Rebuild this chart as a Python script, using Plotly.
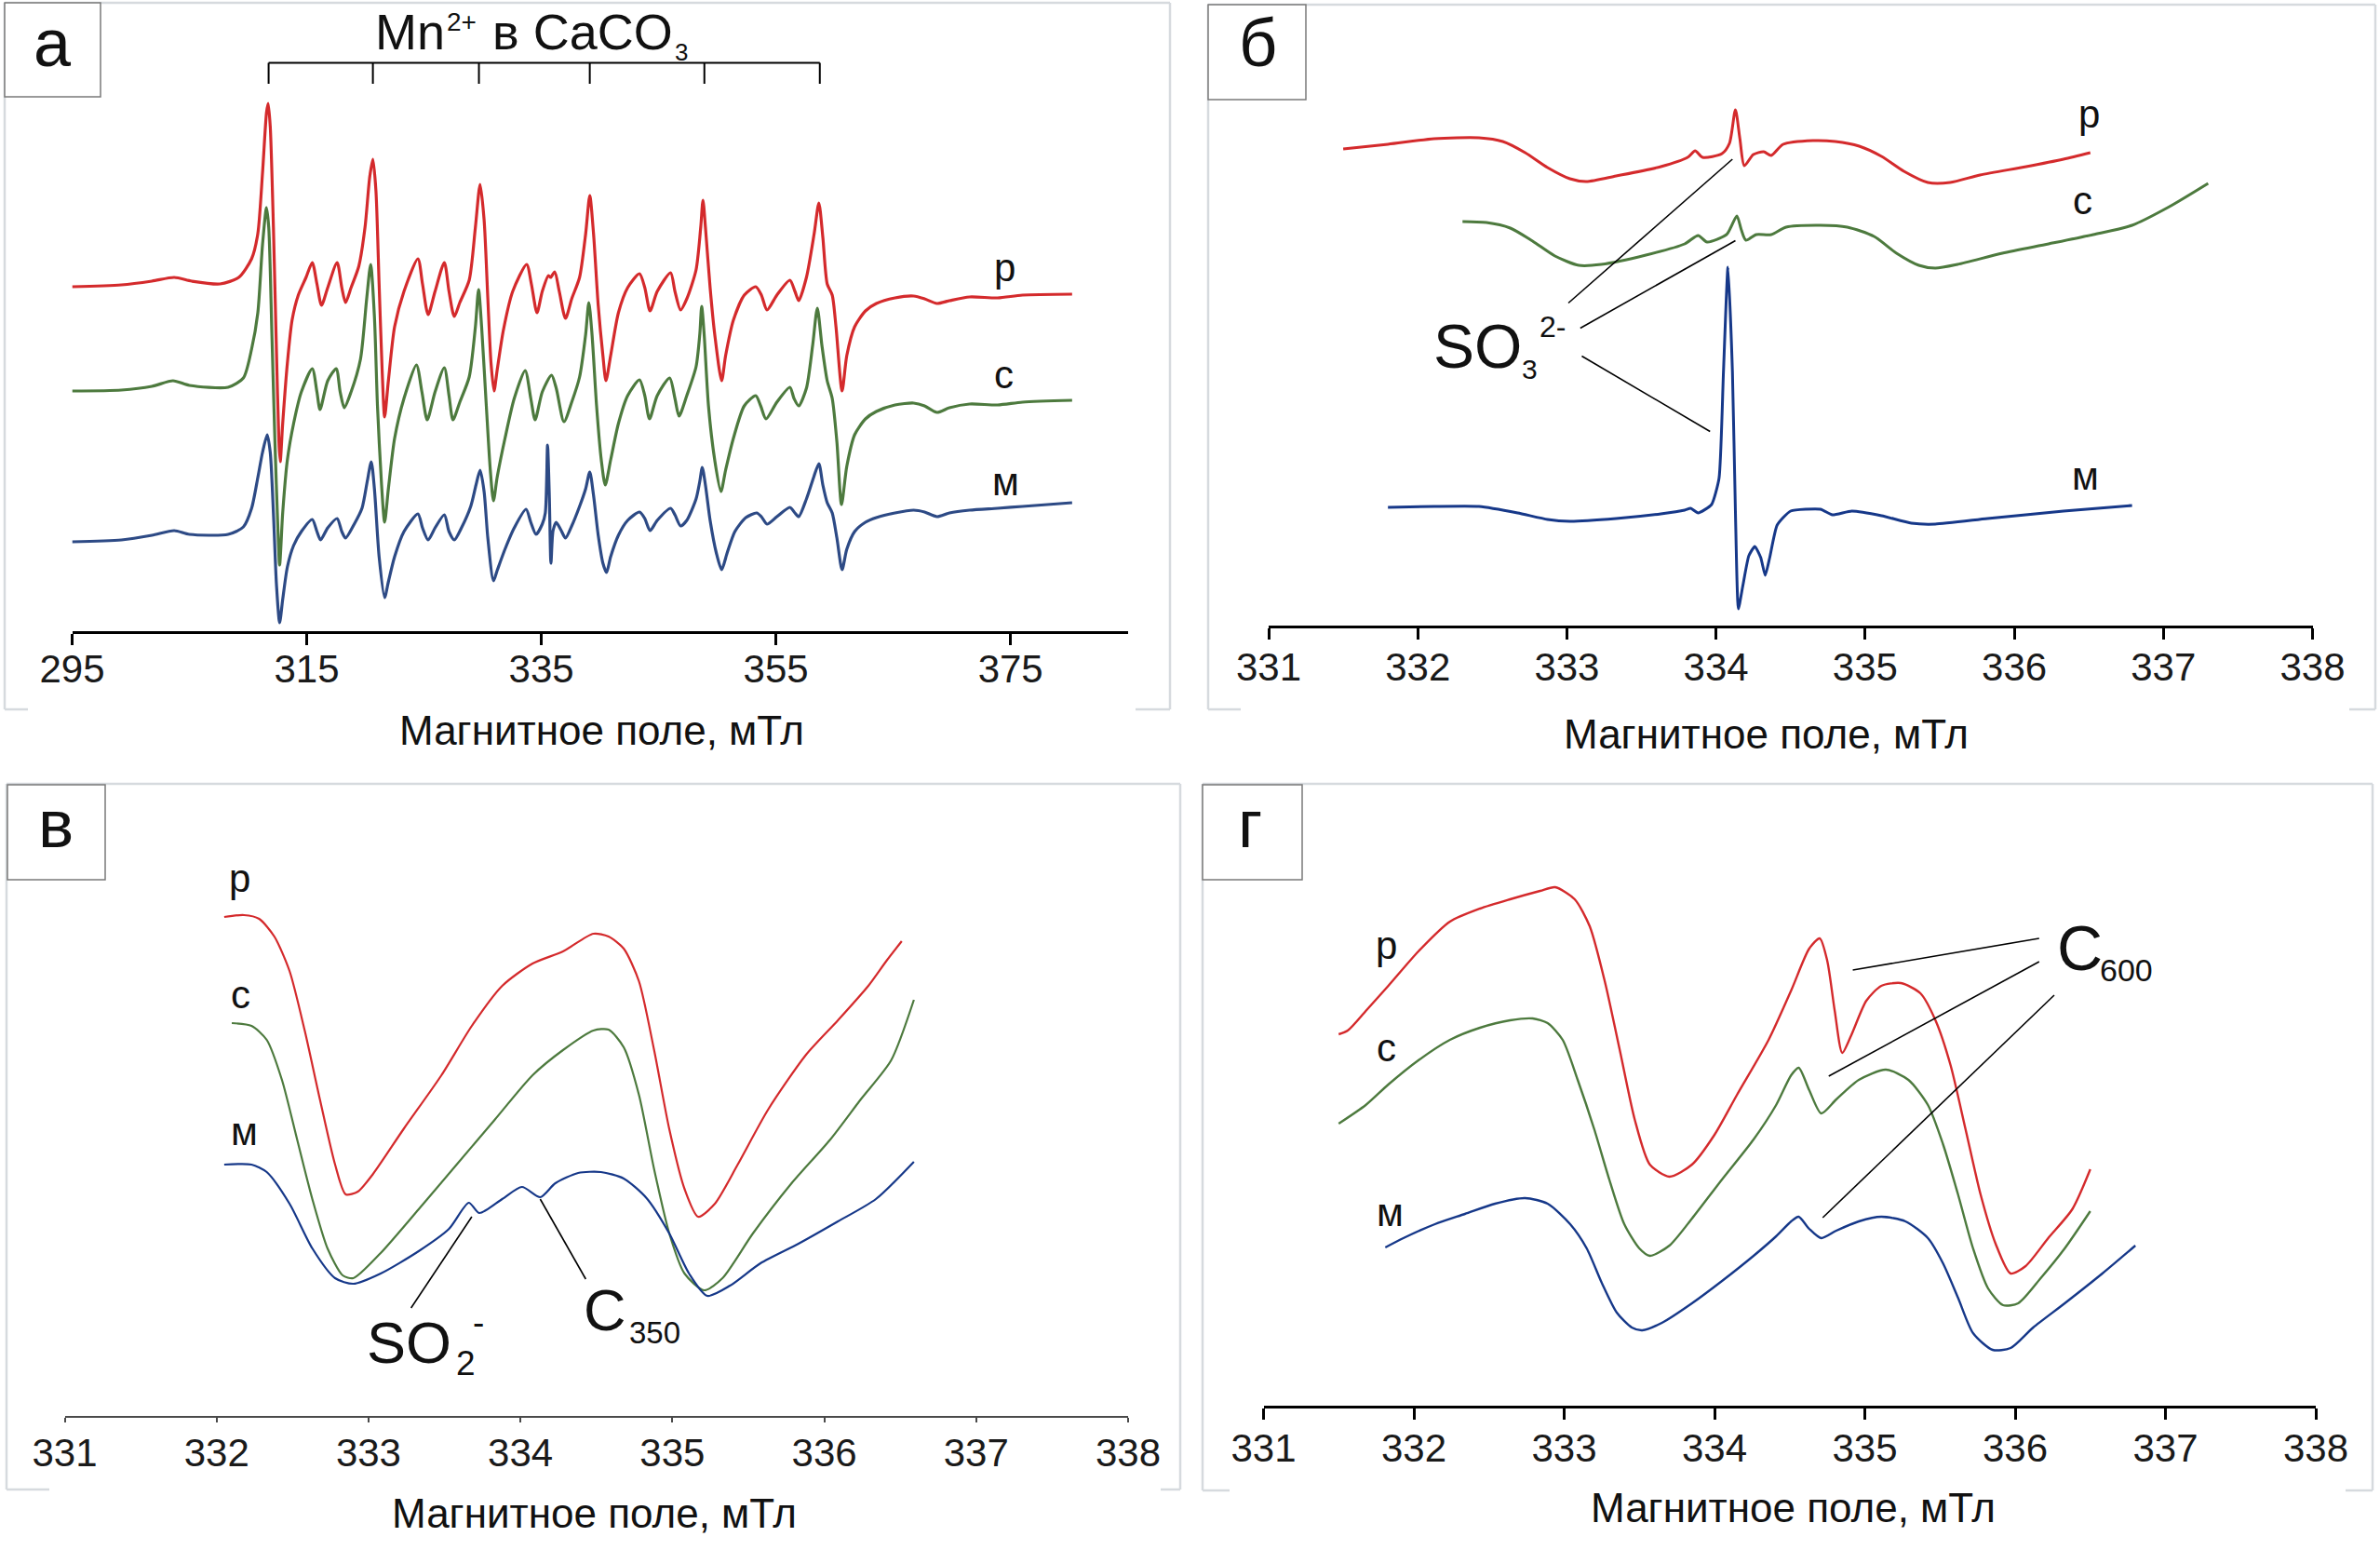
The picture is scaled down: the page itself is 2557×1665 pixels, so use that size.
import plotly.graph_objects as go

W, H = 2557, 1665
FONT = "Liberation Sans, Arial, Helvetica, sans-serif"

# ---------------- panel а : Mn2+ in CaCO3 (field, mT / intensity, arb. units) ----------------
a_ticks = [295, 315, 335, 355, 375]
a_mn_lines = [311.75, 320.64, 329.68, 339.13, 348.9, 358.74]

a_r_x = [295.0, 299.2, 301.8, 303.7, 305.2, 307.6, 309.2,
         310.30, 310.83, 311.23, 311.57, 311.71, 311.89, 312.16, 312.42, 312.63, 312.74,
         312.95, 313.35, 313.75, 314.28, 314.94, 315.47, 315.87, 316.26, 316.79, 317.59,
         317.99, 318.31, 318.78, 319.44, 319.97, 320.37, 320.64, 320.90, 321.17, 321.43,
         321.64, 321.96, 322.49, 323.29, 324.48, 324.87, 325.35, 325.94, 326.73, 327.13,
         327.58, 328.05, 328.85, 329.38, 329.78, 330.12, 330.44, 330.71, 330.97, 331.23,
         331.76, 332.56, 333.75, 334.15, 334.63, 335.08, 335.61, 335.79, 336.14, 336.53,
         337.06, 337.59, 338.26, 338.78, 339.13, 339.45, 339.85, 340.25, 340.51, 340.91,
         341.57, 342.36, 343.37, 343.82, 344.27, 344.88, 346.02, 346.39, 346.87, 347.40,
         348.19, 348.59, 348.78, 348.99, 349.39, 349.78, 350.37, 350.71, 351.37, 352.30,
         353.28, 353.76, 354.24, 355.08, 356.19, 356.62, 356.94, 357.60, 358.26, 358.66,
         359.00, 359.37, 359.80, 360.12, 360.64, 361.04, 361.71, 362.63, 363.56, 365.15,
         366.74, 367.67, 368.73, 369.79, 371.51, 373.90, 376.02, 380.25]
a_r_y = [370, 372, 376, 380, 376, 373, 380,
         400, 427, 492, 557, 567, 542, 434, 300, 203, 182,
         223, 288, 334, 361, 380, 396, 373, 350, 369, 396,
         369, 353, 369, 392, 434, 488, 507, 473, 373, 280,
         230, 269, 327, 365, 400, 373, 340, 365, 396, 365,
         338, 353, 377, 434, 480, 442, 357, 288, 258, 280,
         323, 365, 394, 373, 342, 365, 382, 380, 386, 365,
         336, 357, 380, 427, 468, 427, 350, 296, 269, 296,
         342, 369, 384, 369, 344, 365, 385, 365, 345, 357,
         388, 434, 463, 434, 369, 319, 269, 296, 334, 361,
         370, 361, 345, 361, 377, 365, 355, 380, 427, 460,
         423, 373, 361, 327, 258, 296, 327, 344, 352, 358,
         360, 357, 352, 355, 359, 358, 361, 362]

a_g_x = [295.0, 299.2, 301.8, 303.6, 305.0, 308.3, 309.6,
         310.30, 310.83, 311.23, 311.57, 311.76, 312.03, 312.29, 312.55, 312.69, 312.95,
         313.35, 313.88, 314.54, 315.47, 315.87, 316.13, 316.79, 317.51, 317.85, 318.20,
         318.78, 319.58, 320.11, 320.45, 320.77, 321.03, 321.38, 321.64, 321.96, 322.49,
         323.29, 324.35, 324.82, 325.27, 325.94, 326.73, 327.13, 327.47, 328.05, 328.85,
         329.38, 329.65, 329.91, 330.31, 330.65, 330.92, 331.23, 331.90, 332.69, 333.62,
         334.10, 334.47, 335.08, 335.87, 336.27, 336.93, 337.59, 338.26, 338.78,
         339.05, 339.32, 339.71, 340.11, 340.45, 340.91, 341.57, 342.36, 343.37, 343.82,
         344.22, 344.88, 345.94, 346.39, 346.74, 347.40, 348.19, 348.51, 348.67, 348.88,
         349.25, 349.78, 350.31, 350.71, 351.37, 352.30, 353.28, 353.70, 354.15, 355.08,
         356.19, 356.54, 356.94, 357.60, 358.13, 358.53, 358.92, 359.37, 359.80, 360.20,
         360.59, 361.04, 361.71, 362.63, 363.56, 365.15, 366.74, 367.67, 368.73, 369.79,
         371.51, 373.90, 376.02, 380.25]
a_g_y = [258, 259, 263, 269, 264, 262, 272,
         303, 342, 415, 455, 434, 319, 203, 107, 71, 127,
         184, 223, 257, 282, 257, 238, 269, 282, 257, 240,
         257, 292, 357, 394, 338, 242, 157, 117, 153, 207,
         250, 286, 257, 227, 257, 283, 253, 227, 246, 273,
         327, 367, 327, 242, 173, 140, 165, 207, 250, 280,
         250, 227, 257, 275, 261, 225, 246, 273, 319,
         353, 319, 242, 184, 157, 184, 223, 253, 270, 253,
         228, 253, 272, 250, 231, 253, 284, 319, 349, 319,
         242, 184, 150, 173, 207, 242, 253, 242, 228, 246,
         262, 250, 242, 261, 307, 347, 307, 269, 250, 203,
         136, 177, 211, 228, 236, 243, 245, 242, 235, 240,
         244, 243, 246, 248]

a_b_x = [295.0, 299.2, 301.8, 303.7, 305.0, 308.3, 309.6,
         310.30, 310.83, 311.23, 311.63, 311.89, 312.16, 312.42, 312.69, 312.95, 313.35,
         313.88, 314.54, 315.47, 315.87, 316.18, 316.79, 317.59, 317.99, 318.31, 319.05,
         319.71, 320.16, 320.50, 320.77, 321.17, 321.64, 321.96, 322.49, 323.29, 324.48,
         324.87, 325.35, 325.94, 326.73, 327.13, 327.58, 328.19, 328.98, 329.43, 329.78,
         330.12, 330.44, 330.92, 331.23, 331.90, 332.69, 333.70, 334.10, 334.55, 335.08,
         335.34, 335.53, 335.68, 335.82, 336.00, 336.27, 336.66, 337.06, 337.59, 338.26,
         338.78, 339.13, 339.45, 339.85, 340.25, 340.56, 340.91, 341.57, 342.36, 343.37,
         343.82, 344.27, 344.88, 346.02, 346.39, 346.87, 347.40, 348.19, 348.51, 348.72,
         348.99, 349.39, 349.92, 350.37, 350.84, 351.50, 352.43, 353.36, 353.76, 354.24,
         355.08, 356.19, 356.62, 356.94, 357.60, 358.21, 358.66, 359.00, 359.37, 359.80,
         360.20, 360.64, 361.04, 361.71, 362.63, 363.56, 365.15, 366.74, 367.67,
         368.73, 369.79, 371.51, 373.90, 376.02, 380.25]
a_b_y = [96, 98, 103, 108, 104, 104, 112,
         132, 165, 192, 211, 192, 127, 50, 9, 34, 69,
         92, 107, 120, 107, 98, 111, 121, 107, 100, 115,
         132, 161, 182, 153, 80, 36, 53, 80, 107, 126,
         111, 98, 111, 125, 107, 98, 111, 134, 157, 173,
         150, 100, 54, 65, 88, 111, 131, 117, 104, 115,
         127, 200, 146, 73, 108, 117, 109, 100, 113, 134,
         153, 171, 146, 103, 73, 63, 80, 103, 119, 128,
         121, 108, 119, 132, 125, 113, 119, 142, 161, 176,
         157, 119, 84, 66, 84, 107, 122, 127, 123, 115,
         123, 133, 127, 123, 142, 165, 180, 157, 138, 127,
         100, 66, 88, 107, 117, 122, 127, 130, 128,
         123, 127, 130, 132, 134, 138]

# ---------------- panel б ----------------
b_ticks = [331, 332, 333, 334, 335, 336, 337, 338]
b_r_x = [331.50, 331.80, 332.11, 332.41, 332.57, 332.72, 332.87, 333.02, 333.13, 333.33,
         333.63, 333.81, 333.86, 333.91, 334.04, 334.09, 334.13, 334.16, 334.19, 334.25,
         334.32, 334.37, 334.45, 334.65, 334.80, 334.96, 335.11, 335.26, 335.42, 335.57,
         335.77, 336.08, 336.33, 336.51]
b_r_y = [512, 517, 523, 524, 520, 508, 492, 480, 477, 483,
         493, 503, 510, 503, 507, 518, 554, 523, 494, 506,
         509, 505, 517, 521, 520, 515, 504, 488, 476, 476,
         484, 493, 501, 508]
b_g_x = [332.30, 332.46, 332.62, 332.77, 332.92, 333.08, 333.23, 333.53, 333.79, 333.88,
         333.94, 334.07, 334.10, 334.14, 334.17, 334.20, 334.27, 334.37, 334.47, 334.70,
         334.88, 335.06, 335.21, 335.36, 335.47, 335.62, 335.92, 336.23, 336.53, 336.79,
         337.04, 337.30]
b_g_y = [434, 433, 427, 413, 397, 387, 388, 398, 410, 419,
         412, 420, 428, 440, 425, 414, 420, 420, 428, 430,
         428, 418, 400, 387, 384, 388, 400, 410, 420, 430,
         450, 475]
b_b_x = [331.80, 332.11, 332.41, 332.67, 332.87, 333.02, 333.33, 333.63, 333.79, 333.83,
         333.88, 333.97, 334.02, 334.05, 334.08, 334.11, 334.13, 334.15, 334.18, 334.22,
         334.26, 334.30, 334.33, 334.36, 334.41, 334.50, 334.70, 334.78, 334.91, 335.11,
         335.31, 335.47, 335.82, 336.33, 336.79]
b_b_y = [127, 128, 128, 121, 114, 112, 115, 120, 124, 126,
         121, 130, 158, 273, 385, 273, 123, 18, 43, 75,
         85, 73, 54, 73, 108, 123, 125, 119, 123, 118,
         110, 109, 115, 123, 129]

# ---------------- panel в ----------------
c_ticks = [331, 332, 333, 334, 335, 336, 337, 338]
c_r_x = [332.05, 332.18, 332.28, 332.38, 332.48, 332.58, 332.68, 332.78, 332.85, 332.93,
         333.03, 333.23, 333.48, 333.68, 333.88, 334.08, 334.28, 334.48, 334.58, 334.68,
         334.78, 334.88, 334.98, 335.08, 335.17, 335.28, 335.43, 335.63, 335.88, 336.09,
         336.29, 336.41, 336.51]
c_r_y = [536, 538, 534, 515, 478, 414, 340, 270, 238, 241,
         260, 308, 366, 419, 462, 486, 499, 518, 515, 502,
         467, 393, 308, 244, 214, 228, 270, 329, 388, 425,
         462, 489, 510]
c_g_x = [332.10, 332.23, 332.33, 332.43, 332.53, 332.63, 332.73, 332.83, 332.90, 333.08,
         333.33, 333.58, 333.83, 334.08, 334.28, 334.48, 334.58, 334.68, 334.78, 334.88,
         334.98, 335.08, 335.21, 335.33, 335.53, 335.78, 336.04, 336.24, 336.44, 336.59]
c_g_y = [422, 419, 404, 361, 297, 233, 180, 151, 148, 175,
         222, 270, 318, 366, 393, 414, 415, 396, 345, 265,
         196, 153, 135, 148, 196, 249, 297, 340, 382, 447]
c_b_x = [332.05, 332.23, 332.33, 332.48, 332.63, 332.78, 332.90, 333.08, 333.33, 333.53,
         333.66, 333.73, 333.88, 334.01, 334.13, 334.23, 334.38, 334.53, 334.68, 334.83,
         334.98, 335.11, 335.23, 335.38, 335.58, 335.83, 336.09, 336.34, 336.59]
c_b_y = [270, 270, 262, 228, 180, 148, 142, 153, 177, 201,
         229, 218, 233, 246, 235, 250, 261, 262, 255, 234,
         196, 153, 129, 140, 164, 185, 209, 233, 273]

# ---------------- panel г ----------------
d_ticks = [331, 332, 333, 334, 335, 336, 337, 338]
d_r_x = [331.50, 331.56, 331.68, 331.83, 332.03, 332.24, 332.44, 332.64, 332.84, 332.94,
         333.07, 333.17, 333.27, 333.37, 333.47, 333.57, 333.70, 333.85, 334.00, 334.15,
         334.36, 334.51, 334.63, 334.70, 334.75, 334.80, 334.85, 334.91, 335.01, 335.11,
         335.24, 335.37, 335.47, 335.57, 335.67, 335.77, 335.87, 335.97, 336.07, 336.22,
         336.38, 336.50]
d_r_y = [399, 403, 424, 451, 488, 520, 534, 544, 553, 557,
         544, 515, 456, 382, 307, 259, 246, 259, 291, 334,
         393, 446, 491, 502, 478, 424, 379, 398, 435, 451,
         454, 443, 414, 366, 297, 227, 174, 142, 150, 180,
         211, 254]
d_g_x = [331.50, 331.68, 331.83, 332.03, 332.24, 332.44, 332.64, 332.79, 332.89, 332.99,
         333.09, 333.20, 333.30, 333.40, 333.50, 333.57, 333.70, 333.85, 334.05, 334.26,
         334.41, 334.51, 334.56, 334.63, 334.71, 334.81, 334.96, 335.14, 335.29, 335.42,
         335.52, 335.62, 335.72, 335.82, 335.92, 336.02, 336.17, 336.33, 336.50]
d_g_y = [303, 323, 345, 371, 393, 406, 414, 416, 411, 393,
         350, 297, 243, 195, 169, 161, 172, 201, 243, 286,
         323, 355, 363, 339, 314, 329, 350, 361, 350, 323,
         281, 227, 169, 126, 108, 110, 137, 169, 209]
d_b_x = [331.81, 331.93, 332.14, 332.34, 332.54, 332.74, 332.89, 333.04, 333.15, 333.25,
         333.35, 333.45, 333.52, 333.65, 333.85, 334.05, 334.26, 334.41, 334.51, 334.56,
         334.63, 334.71, 334.81, 334.96, 335.11, 335.27, 335.42, 335.52, 335.62, 335.72,
         335.85, 335.97, 336.12, 336.33, 336.58, 336.80]
d_b_y = [170, 180, 195, 206, 217, 223, 217, 195, 169, 132,
         100, 84, 81, 89, 110, 134, 161, 182, 198, 203,
         190, 180, 188, 198, 203, 198, 180, 153, 116, 78,
         60, 62, 84, 110, 142, 172]

# ---------------- styling ----------------
RED = "#d42a2c"
GREEN = "#4d7a3e"
BLUE_A = "#2d4a85"
BLUE = "#163889"
FRAME = "#d6dade"


def px(x):
    return x / W


def py(y):
    return 1 - y / H


fig = go.Figure()


def curve(x, y, color, ax, width, smooth=0.7):
    fig.add_trace(go.Scatter(
        x=x, y=y, mode="lines", hoverinfo="skip",
        line=dict(color=color, width=width, shape="spline", smoothing=smooth),
        xaxis="x" + ax, yaxis="y" + ax))


curve(a_r_x, a_r_y, RED, "", 3.2)
curve(a_g_x, a_g_y, GREEN, "", 3.2)
curve(a_b_x, a_b_y, BLUE_A, "", 3.2)
curve(b_r_x, b_r_y, RED, "2", 3)
curve(b_g_x, b_g_y, GREEN, "2", 3)
curve(b_b_x, b_b_y, BLUE, "2", 3, 0.5)
curve(c_r_x, c_r_y, RED, "3", 2.2)
curve(c_g_x, c_g_y, GREEN, "3", 2.2)
curve(c_b_x, c_b_y, BLUE, "3", 2.2)
curve(d_r_x, d_r_y, RED, "4", 2.4)
curve(d_g_x, d_g_y, GREEN, "4", 2.4)
curve(d_b_x, d_b_y, BLUE, "4", 2.4)

xbase = dict(showline=True, linecolor="black", linewidth=3, ticks="outside",
             ticklen=12, tickwidth=3, tickcolor="black", showgrid=False,
             zeroline=False, fixedrange=True, automargin=False,
             tickfont=dict(family=FONT, size=42, color="#1a1a1a"))
ybase = dict(visible=False, showgrid=False, zeroline=False, fixedrange=True,
             automargin=False)
xthin = dict(xbase, linewidth=2, linecolor="#4a4a4a", ticklen=5, tickwidth=2,
             tickcolor="#4a4a4a")

fig.update_layout(
    template="none",
    width=W, height=H, margin=dict(l=0, r=0, t=0, b=0, pad=0, autoexpand=False),
    paper_bgcolor="white", plot_bgcolor="rgba(0,0,0,0)", showlegend=False,
    xaxis=dict(xbase, domain=[px(77.5), px(1211.7)], range=[295, 385],
               tickvals=a_ticks, anchor="y"),
    yaxis=dict(ybase, domain=[py(678), py(5)], range=[0, 673], anchor="x"),
    xaxis2=dict(xbase, domain=[px(1363), px(2484.5)], range=[331, 338],
                tickvals=b_ticks, anchor="y2"),
    yaxis2=dict(ybase, domain=[py(672), py(5)], range=[0, 667], anchor="x2"),
    xaxis3=dict(xthin, domain=[px(69.5), px(1212)], range=[331, 338],
                tickvals=c_ticks, anchor="y3"),
    yaxis3=dict(ybase, domain=[py(1521), py(845)], range=[0, 676], anchor="x3"),
    xaxis4=dict(xbase, domain=[px(1357.5), px(2488)], range=[331, 338],
                tickvals=d_ticks, anchor="y4"),
    yaxis4=dict(ybase, domain=[py(1510), py(845)], range=[0, 665], anchor="x4"),
)

# pull the tick labels a little closer to the axis lines
for name, off in [("xaxis", -10), ("xaxis2", -6), ("xaxis3", -3), ("xaxis4", -5)]:
    try:
        fig.layout[name].ticklabelstandoff = off
    except (ValueError, AttributeError):
        pass

shapes = []
# panel frames (with broken bottom edge)
frames = [(5, 3, 1257, 762, 30, 1220), (1298, 5, 2552, 762, 1333, 2524),
          (7, 842, 1268, 1600, 53, 1247), (1292, 842, 2549, 1601, 1321, 2520)]
for x0, y0, x1, y1, sl, sr in frames:
    for (ax0, ay0, ax1, ay1) in [(x0, y0, x1, y0), (x0, y0, x0, y1), (x1, y0, x1, y1),
                                 (x0, y1, sl, y1), (sr, y1, x1, y1)]:
        shapes.append(dict(type="line", xref="paper", yref="paper",
                           x0=px(ax0), y0=py(ay0), x1=px(ax1), y1=py(ay1),
                           line=dict(color=FRAME, width=2.5)))
# label boxes
for x0, y0, x1, y1 in [(5, 3, 108, 104), (1298, 5, 1403, 107),
                       (8, 843, 113, 945), (1292, 843, 1399, 945)]:
    shapes.append(dict(type="rect", xref="paper", yref="paper",
                       x0=px(x0), y0=py(y0), x1=px(x1), y1=py(y1),
                       line=dict(color="#7a7a7a", width=1.5), fillcolor="white"))

# Mn2+ bracket
shapes.append(dict(type="line", xref="x", yref="y", x0=a_mn_lines[0], x1=a_mn_lines[-1],
                   y0=610.5, y1=610.5, line=dict(color="black", width=2)))
for v in a_mn_lines:
    shapes.append(dict(type="line", xref="x", yref="y", x0=v, x1=v, y0=610.5, y1=588,
                       line=dict(color="black", width=2)))

# pointer lines
ptr = [("2", 333.01, 346.5, 334.11, 501), ("2", 333.09, 319.5, 334.13, 413.5),
       ("2", 333.10, 289.5, 333.96, 208.5),
       ("3", 333.28, 116, 333.68, 214), ("3", 334.43, 147, 334.13, 233),
       ("4", 336.16, 502, 334.92, 468), ("4", 336.16, 477, 334.76, 354),
       ("4", 336.26, 441, 334.72, 202)]
for ax, x0, y0, x1, y1 in ptr:
    shapes.append(dict(type="line", xref="x" + ax, yref="y" + ax, x0=x0, y0=y0,
                       x1=x1, y1=y1, line=dict(color="black", width=1.6)))
fig.update_layout(shapes=shapes)

ann = []


def txt(text, x, y, size, xref="paper", yref="paper", xanchor="center", color="#111"):
    ann.append(dict(text=text, x=x, y=y, xref=xref, yref=yref, showarrow=False,
                    xanchor=xanchor, yanchor="middle", borderpad=0,
                    font=dict(family=FONT, size=size, color=color)))


# panel letters
txt("а", px(56), py(46), 72)
txt("б", px(1351), py(46), 72)
txt("в", px(60), py(885), 72)
txt("г", px(1343), py(885), 72)

# axis titles
for (cx, cy) in [(646, 784), (1897, 788), (638, 1625), (1926, 1619)]:
    txt("Магнитное поле, мТл", px(cx), py(cy), 44)

# title of panel а
txt("Mn", px(402), py(34.3), 54, xanchor="left")
txt("2+", px(479), py(23.3), 28, xanchor="left")
txt("в CaCO", px(528), py(34.3), 54, xanchor="left")
txt("3", px(724), py(56), 26, xanchor="left")

# curve labels
for ax, pts in [("", [("р", 374.5, 391), ("с", 374.4, 276), ("м", 374.6, 161)]),
                ("2", [("р", 336.50, 550), ("с", 336.46, 457), ("м", 336.48, 161)]),
                ("3", [("р", 332.15, 578), ("с", 332.16, 453), ("м", 332.18, 306)]),
                ("4", [("р", 331.82, 495), ("с", 331.82, 385), ("м", 331.84, 208)])]:
    for t, x, y in pts:
        txt(t, x, y, 42, xref="x" + ax, yref="y" + ax)

# chemical labels
txt("SO", 332.10, 300, 66, "x2", "y2", "left")
txt("3", 332.69, 276, 30, "x2", "y2", "left")
txt("2-", 332.81, 321, 32, "x2", "y2", "left")
txt("SO", 332.98, 79, 63, "x3", "y3", "left")
txt("2", 333.57, 57, 37, "x3", "y3", "left")
txt("-", 333.68, 101, 37, "x3", "y3", "left")
txt("C", 334.41, 114, 63, "x3", "y3", "left")
txt("350", 334.71, 90, 33, "x3", "y3", "left")
txt("C", 336.27, 492, 68, "x4", "y4", "left")
txt("600", 336.56, 468, 34, "x4", "y4", "left")

fig.update_layout(annotations=ann)
fig.write_html("out.html")
